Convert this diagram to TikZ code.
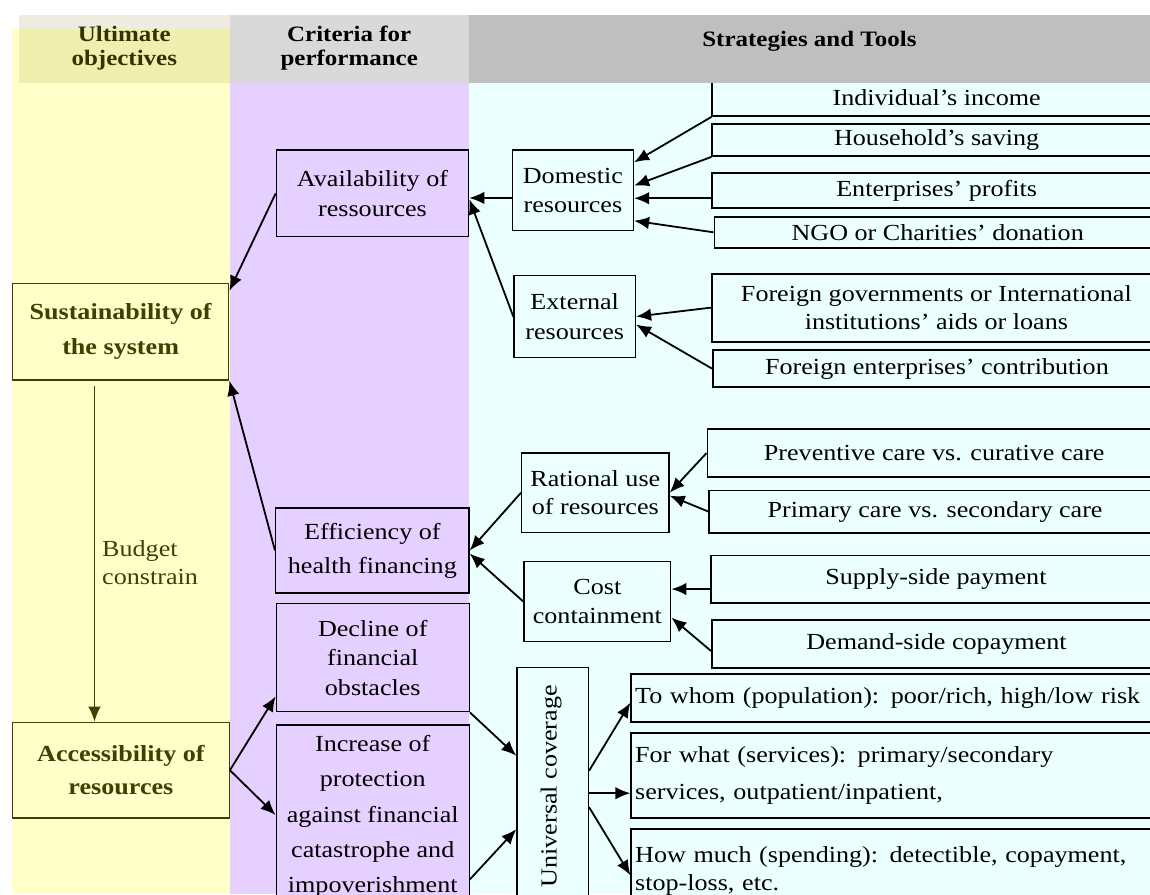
\documentclass[tikz,border=0pt]{standalone}
\usepackage{fontspec}
\setmainfont{Liberation Serif}[FakeStretch=1.135]
\usetikzlibrary{arrows.meta,calc}
\definecolor{ylw}{HTML}{FFFFC9}
\definecolor{ylwhdr}{HTML}{F0EFB0}
\definecolor{beige}{HTML}{EEECE1}
\definecolor{hgrey}{HTML}{D9D9D9}
\definecolor{hgreyd}{HTML}{BFBFBF}
\definecolor{purp}{HTML}{E6D0FF}
\definecolor{cyanbg}{HTML}{EBFFFF}
\definecolor{olive}{HTML}{404000}
\definecolor{olivetxt}{HTML}{333300}
\newcommand\mybox[7]{\node[#2, minimum width={(#5)-(#3)}, minimum height={(#6)-(#4)}] (#1) at (#3,#4) {#7};}
\tikzset{
 base/.style={font=\fontsize{23}{30}\selectfont, inner sep=0pt, anchor=north west, align=center},
 bs/.style={font=\fontsize{23}{#1}\selectfont},
 ybs/.style={font=\fontsize{23}{#1}\selectfont\bfseries},
 pbox/.style={base, draw, line width=1.4pt, fill=purp},
 cbox/.style={base, draw, line width=1.4pt, fill=cyanbg},
 rbox/.style={base, draw, line width=1.9pt, fill=cyanbg},
 lbox/.style={rbox, align=left, text width=522pt, inner xsep=3pt},
 ybox/.style={base, draw=olive, line width=1.4pt, fill=ylw, text=olive},
 hdrtxt/.style={font=\fontsize{22}{24.3}\selectfont\bfseries, align=center, inner sep=0pt},
 arr/.style={-{Latex[length=15pt,width=12.5pt]}, line width=1.8pt},
}
\begin{document}
\begin{tikzpicture}[x=1pt,y=-1pt]
\useasboundingbox (0,0) rectangle (1150,894);
\clip (0,0) rectangle (1150,894);
% column backgrounds
\fill[ylw] (12,29.3) rectangle (229.6,894);
\fill[purp] (229.6,82.7) rectangle (468.8,894);
\fill[cyanbg] (468.8,82.7) rectangle (1150,894);
% first right box (its top hides under the header)
\mybox{ind}{rbox}{711.4}{78}{1160}{115}{Individual's income}
% header
\fill[beige] (19,15) rectangle (229.6,82.7);
\fill[hgrey] (229.6,15) rectangle (468.8,82.7);
\fill[hgreyd] (468.8,15) rectangle (1150,82.7);
\fill[ylwhdr] (19,29.3) rectangle (229.6,82.7);
\node[hdrtxt, text=olivetxt] (h1) at (124.3,48) {Ultimate\\objectives};
\node[hdrtxt] (h2) at (349.2,48) {Criteria for\\performance};
\node[hdrtxt] (h3) at (809.4,41) {Strategies and Tools};
% ultimate objectives
\mybox{sust}{ybox,ybs=35}{11.9}{282.7}{228}{379.3}{Sustainability of\\the system}
\mybox{acc}{ybox,ybs=33}{11.9}{721.7}{228.5}{817.3}{Accessibility of\\resources}
\node[font=\fontsize{23}{28}\selectfont, text=olive, align=left, anchor=west, inner sep=0pt] (bud) at (102,563) {Budget\\constrain};
% criteria
\mybox{av}{pbox}{275.7}{149.3}{467.9}{236}{Availability of\\ressources}
\mybox{eff}{pbox,bs=34}{275}{507.3}{468.3}{592.3}{Efficiency of\\health financing}
\mybox{dec}{pbox,bs=29.5}{275.6}{603}{468.5}{711}{Decline of\\financial\\obstacles}
\mybox{inc}{pbox,bs=35.3}{275.6}{724.3}{468.5}{907}{Increase of\\protection\\against financial\\catastrophe and\\impoverishment}
% strategies
\mybox{dom}{cbox,bs=28.4}{511.7}{149.3}{632.7}{230}{Domestic\\resources}
\mybox{ext}{cbox}{513.3}{275}{634.7}{356.7}{External\\resources}
\mybox{rat}{cbox,bs=28.5}{521}{452.3}{668.3}{531.7}{Rational use\\of resources}
\mybox{cost}{cbox,bs=28.5}{523.3}{561}{670}{640.7}{Cost\\containment}
\mybox{uni}{cbox}{516.3}{667}{587.7}{910}{}
\node[rotate=90, font=\fontsize{23}{30}\selectfont, inner sep=0pt] (unitext) at ($(uni.center)+(-1.5,-3)$) {Universal coverage};
% tools
\mybox{hh}{rbox}{711.4}{123.3}{1160}{155}{Household's saving}
\mybox{ent}{rbox}{711.4}{171.7}{1160}{207.3}{Enterprises' profits}
\mybox{ngo}{rbox}{713.5}{216}{1160}{246.7}{NGO or Charities' donation}
\mybox{fgov}{rbox,bs=27.5}{710.8}{272.7}{1160}{340.7}{Foreign governments or International\\institutions' aids or loans}
\mybox{fent}{rbox}{712}{349.3}{1160}{386}{Foreign enterprises' contribution}
\mybox{prev}{rbox}{706.5}{428.3}{1160}{476}{Preventive care vs. curative care}
\mybox{prim}{rbox}{708.3}{489.5}{1160}{531.7}{Primary care vs. secondary care}
\mybox{sup}{rbox}{710}{554.5}{1160}{601.7}{Supply-side payment}
\mybox{dem}{rbox}{711}{619}{1160}{667}{Demand-side copayment}
\mybox{whom}{lbox}{630.4}{673.3}{1160}{721}{To whom (population): poor/rich, high/low risk}
\mybox{what}{lbox,bs=36.6}{630.4}{731.7}{1160}{817.3}{For what (services): primary/secondary\\services, outpatient/inpatient,}
\mybox{much}{lbox,bs=27.6}{630.4}{828.3}{1160}{911.7}{How much (spending): detectible, copayment,\\stop-loss, etc.}
% connectors
\draw[arr] (av.west) -- ($(sust.north east)+(0,8)$);
\coordinate (d1) at ($(dom.west)+(0,7.6)$);
\draw[arr] (d1) -- (d1 -| av.east);
\draw[arr] (ext.west) -- ($(av.east)+(0,6)$);
\draw[arr] (eff.west) -- (sust.south east);
\draw[arr] (ind.south west) -- ($(dom.east)+(0,-28)$);
\draw[arr] (hh.south west) -- ($(dom.east)+(0,-4.7)$);
\coordinate (e1) at ($(ent.west)+(0,7.8)$);
\draw[arr] (e1) -- (e1 -| dom.east);
\draw[arr] (ngo.west) -- ($(dom.east)+(0,30.4)$);
\draw[arr] (fgov.west) -- (ext.east);
\draw[arr] (fent.west) -- ($(ext.east)+(0,8)$);
\draw[arr] (rat.west) -- (eff.east);
\draw[arr] (cost.west) -- ($(eff.east)+(0,3)$);
\draw[arr] (prev.west) -- (rat.east);
\draw[arr] (prim.west) -- ($(rat.east)+(0,3)$);
\coordinate (s1) at ($(sup.west)+(0,10)$);
\draw[arr] (s1) -- (s1 -| cost.east);
\draw[arr] ($(dem.west)+(0,7)$) -- ($(cost.east)+(0,16)$);
\draw[arr] (acc.east) -- ($(dec.south west)+(0,-16)$);
\draw[arr] (acc.east) -- ($(inc.north west)+(0,90.7)$);
\draw[arr] (dec.south east) -- ($(uni.west)+(0,-33.5)$);
\draw[arr] ($(inc.east)+(0,63)$) -- ($(uni.west)+(0,40)$);
\draw[arr] ($(uni.east)+(0,-18.5)$) -- ($(whom.west)+(0,4.5)$);
\coordinate (u2) at ($(uni.east)+(0,4)$);
\draw[arr] (u2) -- (u2 -| what.west);
\draw[arr] ($(uni.east)+(0,18)$) -- ($(much.west)+(0,4.3)$);
\coordinate (b1) at ($(sust.south west)+(82.6,5.7)$);
\draw[arr, draw=olive] (b1) -- (b1 |- acc.north);
\end{tikzpicture}
\end{document}
